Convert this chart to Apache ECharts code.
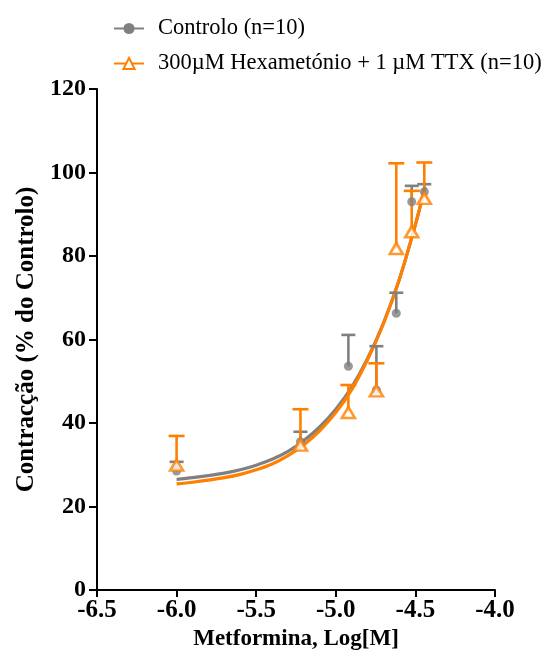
<!DOCTYPE html>
<html><head><meta charset="utf-8">
<script src="https://cdn.jsdelivr.net/npm/echarts@6/dist/echarts.min.js"></script>
<style>html,body{margin:0;padding:0;background:#fff}#c{width:551px;height:659px}</style>
</head><body><div id="c"></div>
<script>
// Data
const logConc = [-6.0, -5.222, -4.921, -4.745, -4.620, -4.523, -4.444];
const ctrlMean = [28.5, 35.5, 53.6, 47.9, 66.3, 93.0, 95.4];
const ctrlSem  = [2.2, 2.4, 7.5, 10.5, 4.9, 3.8, 1.8];
const hexMean  = [29.9, 34.7, 42.5, 47.7, 81.8, 85.8, 93.8];
const hexSem   = [7.0, 8.6, 6.6, 6.6, 20.4, 9.8, 8.6];
const curveX    = [-6.0, -5.9, -5.8, -5.7, -5.6, -5.5, -5.4, -5.3, -5.2, -5.1, -5.0, -4.9, -4.8, -4.7, -4.6, -4.5, -4.44];
const ctrlCurve = [26.5, 26.9, 27.4, 28.0, 28.8, 29.9, 31.3, 33.2, 35.8, 39.1, 43.3, 48.6, 55.5, 64.0, 74.5, 87.5, 96.5];
const hexCurve  = [25.4, 25.8, 26.3, 26.9, 27.7, 28.8, 30.2, 32.2, 34.8, 38.2, 42.5, 48.0, 55.2, 63.9, 74.5, 87.5, 96.5];
const xTicks = [-6.5, -6.0, -5.5, -5.0, -4.5, -4.0];
const yTicks = [0, 20, 40, 60, 80, 100, 120];
const nameCtrl = 'Controlo (n=10)';
const nameHex = '300\u00b5M Hexamet\u00f3nio + 1 \u00b5M TTX (n=10)';

const GRAY = '#808080', ORANGE = '#FF8000';
const serif = '"Liberation Serif", "Times New Roman", serif';

function pairs(xs, ys){ return xs.map((x,i)=>[x, ys[i]]); }
function errData(xs, m, e){ return xs.map((x,i)=>[x, m[i], m[i]+e[i]]); }
function errSeries(name, data, color, capW){
  return {
    type:'custom', name:name, data:data, z:3,
    encode:{x:0, y:[1,2]},
    renderItem:function(params, api){
      const lo = api.coord([api.value(0), api.value(1)]);
      const hi = api.coord([api.value(0), api.value(2)]);
      const st = {stroke:color, lineWidth:2.6};
      return {type:'group', children:[
        {type:'line', shape:{x1:lo[0], y1:lo[1], x2:hi[0], y2:hi[1]}, style:st},
        {type:'line', shape:{x1:hi[0]-capW/2, y1:hi[1], x2:hi[0]+capW/2, y2:hi[1]}, style:st}
      ]};
    }
  };
}

const chart = echarts.init(document.getElementById('c'), null, {renderer:'canvas'});
chart.setOption({
  animation:false,
  backgroundColor:'#fff',
  legend:{
    orient:'vertical', left:108, top:12, itemGap:12, itemWidth:30, itemHeight:14,
    textStyle:{fontFamily:serif, fontSize:22.5, color:'#000', padding:[0,0,0,9]},
    data:[nameCtrl, nameHex]
  },
  grid:{left:97, right:56, top:89, bottom:69},
  xAxis:{
    type:'value', min:-6.5, max:-4.0, interval:0.5,
    name:'Metformina, Log[M]', nameLocation:'middle', nameGap:34,
    nameTextStyle:{fontFamily:serif, fontSize:23, fontWeight:'bold', color:'#000'},
    axisLine:{onZero:false, lineStyle:{color:'#000', width:2}},
    axisTick:{length:7, lineStyle:{color:'#000', width:2}},
    axisLabel:{fontFamily:serif, fontSize:25, fontWeight:'bold', color:'#000', margin:8,
      formatter:v=>{ const t = xTicks.find(k=>Math.abs(k-v)<1e-6); return (t!==undefined?t:v).toFixed(1); }},
    splitLine:{show:false}
  },
  yAxis:{
    type:'value', min:0, max:120, interval:20,
    name:'Contracção (% do Controlo)', nameLocation:'middle', nameGap:58,
    nameTextStyle:{fontFamily:serif, fontSize:25, fontWeight:'bold', color:'#000'},
    axisLine:{show:true, lineStyle:{color:'#000', width:2}},
    axisTick:{show:true, length:8, lineStyle:{color:'#000', width:2}},
    axisLabel:{fontFamily:serif, fontSize:24, fontWeight:'bold', color:'#000', margin:11,
      formatter:v=>String(yTicks.find(k=>k===v) ?? v)},
    splitLine:{show:false}
  },
  series:[
    {type:'line', name:nameCtrl, data:pairs(curveX, ctrlCurve), smooth:0.3,
     symbol:'circle', symbolSize:9, showSymbol:false,
     itemStyle:{color:GRAY}, lineStyle:{color:GRAY, width:3.2}, z:2},
    {type:'line', name:nameHex, data:pairs(curveX, hexCurve), smooth:0.3,
     symbol:'triangle', symbolSize:13, showSymbol:false,
     itemStyle:{color:'#fff', borderColor:ORANGE, borderWidth:2.6},
     lineStyle:{color:ORANGE, width:3.2}, z:2},
    errSeries(nameCtrl, errData(logConc, ctrlMean, ctrlSem), GRAY, 14),
    {type:'scatter', name:nameCtrl, data:pairs(logConc, ctrlMean), symbol:'circle', symbolSize:9,
     itemStyle:{color:GRAY}, z:4},
    errSeries(nameHex, errData(logConc, hexMean, hexSem), ORANGE, 16),
    {type:'scatter', name:nameHex, data:pairs(logConc, hexMean), symbol:'triangle', symbolSize:[13,11],
     itemStyle:{color:'#fff', borderColor:ORANGE, borderWidth:2.6}, z:5}
  ]
});
</script></body></html>
